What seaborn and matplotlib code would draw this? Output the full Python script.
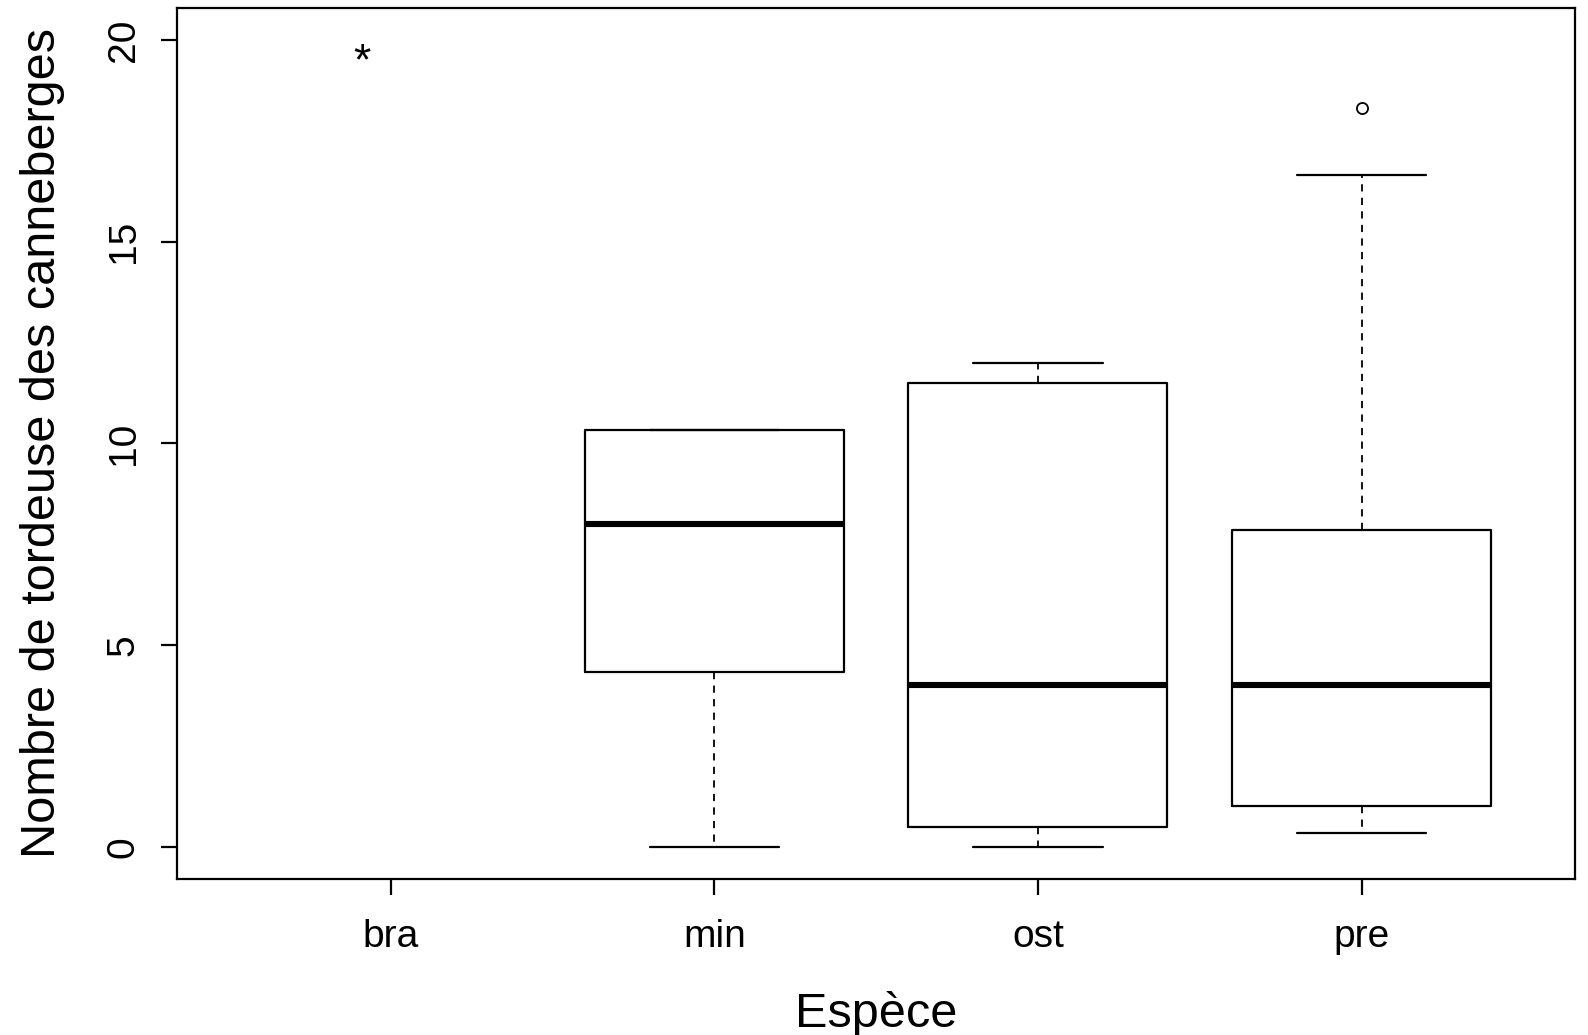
import matplotlib
matplotlib.use("Agg")
import matplotlib.pyplot as plt
import seaborn as sns

# ---- data ----
species = ["bra", "min", "ost", "pre"]
box_species = ["min", "ost", "pre"]
whisker_low = [0.0, 0.0, 0.33]
quartile_1 = [4.33, 0.5, 1.0]
medians = [8.0, 4.0, 4.0]
quartile_3 = [10.33, 11.5, 7.85]
whisker_high = [10.33, 12.0, 16.67]
outliers = [[], [], [18.33]]
bra_star_x = [0.91]
bra_star_y = [19.75]
y_ticks = [0, 5, 10, 15, 20]

sns.set_style("white")
plt.rcParams['font.family'] = ['Liberation Sans', 'DejaVu Sans']

fig = plt.figure(figsize=(15.88, 10.35), dpi=100)
ax = fig.add_axes([0.1115, 0.1507, 0.8804, 0.8416])

stats = []
for s, lo, q1, md, q3, hi, fl in zip(box_species, whisker_low, quartile_1, medians,
                                     quartile_3, whisker_high, outliers):
    stats.append(dict(label=s, whislo=lo, q1=q1, med=md, q3=q3, whishi=hi, fliers=fl))
positions = [species.index(s) + 1 for s in box_species]

ax.bxp(stats, positions=positions, widths=0.8, capwidths=0.4, showfliers=True,
       boxprops=dict(color='black', linewidth=1.6),
       medianprops=dict(color='black', linewidth=4.4, solid_capstyle='butt'),
       whiskerprops=dict(color='black', linewidth=1.3, linestyle=(0, (4, 3.5))),
       capprops=dict(color='black', linewidth=1.6),
       flierprops=dict(marker='o', markersize=8, markerfacecolor='none',
                       markeredgecolor='black', markeredgewidth=1.3))

for x, y in zip(bra_star_x, bra_star_y):
    ax.text(x, y - 0.3, "*", fontsize=32, ha='center', va='center', color='black')

ax.set_xlim(0.34, 4.66)
ax.set_ylim(-0.8, 20.8)
ax.set_xticks(range(1, len(species) + 1))
ax.set_xticklabels(species)
ax.set_yticks(y_ticks)
ax.set_yticklabels([str(t) for t in y_ticks], rotation=90, va='center')

for sp in ax.spines.values():
    sp.set_color('black')
    sp.set_linewidth(1.6)

ax.tick_params(axis='both', which='both', direction='out', length=11.5, width=1.6,
               color='black', labelsize=28, labelcolor='black',
               bottom=True, left=True)
ax.tick_params(axis='x', pad=17.5)
ax.tick_params(axis='y', pad=14)

ax.set_xlabel("Espèce", fontsize=35, labelpad=26, color='black')
ax.set_ylabel("Nombre de tordeuse des canneberges", fontsize=35, labelpad=29, color='black')

fig.savefig("out.png", dpi=100, facecolor='white')
